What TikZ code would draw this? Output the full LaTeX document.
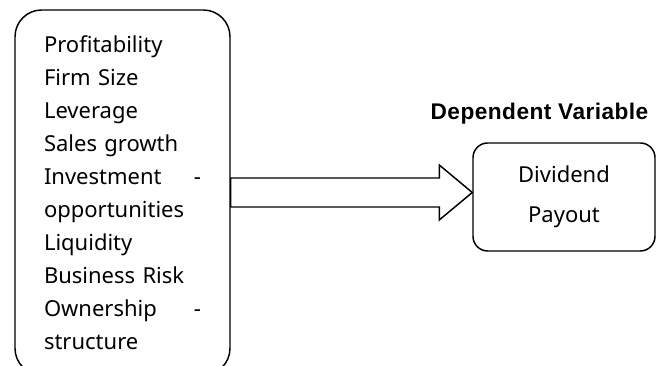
\documentclass[tikz,border=0pt]{standalone}
\usepackage{fontspec}
\setmainfont{Noto Sans}
\newfontfamily\labelfont{Liberation Sans}[LetterSpace=2]
\usetikzlibrary{calc}

\tikzset{
	varbox/.style={draw, rectangle, rounded corners=#1},
	varbox/.default=11pt,
	itemfont/.style={font=\fontsize{16.5}{24.75}\selectfont}
}

\begin{document}
\begin{tikzpicture}[x=0.75pt, y=-0.75pt, line width=1.1pt]
		\useasboundingbox (0,0) rectangle (658,366);
		\node[varbox=20pt, itemfont, minimum width=161.25pt, minimum height=273.75pt, text width=117.75pt, align=left] (indep) at (122.5,192.5)
		{Profitability\\ Firm Size\\ Leverage\\ Sales growth\\ Investment\hfill-\\ opportunities\\ Liquidity\\ Business Risk\\ Ownership\hfill-\\ structure};
		\node[varbox, font=\fontsize{16.5}{30}\selectfont, minimum width=136.5pt, minimum height=81pt, align=center] (dep) at (564,197) {Dividend\\ Payout};
		\node[anchor=base, font=\labelfont\bfseries\fontsize{17}{18}\selectfont] (deplabel) at (539.5,120) {Dependent Variable};
		\coordinate (tail) at (indep.east);
		\coordinate (tip) at (tail -| dep.west);
		\draw ($(tail)+(0,-14.5)$) -- ($(tip)+(-33,-14.5)$) -- ($(tip)+(-33,-27.5)$) -- (tip)
		-- ($(tip)+(-33,27.5)$) -- ($(tip)+(-33,14.5)$) -- ($(tail)+(0,14.5)$) -- cycle;
\end{tikzpicture}
\end{document}
